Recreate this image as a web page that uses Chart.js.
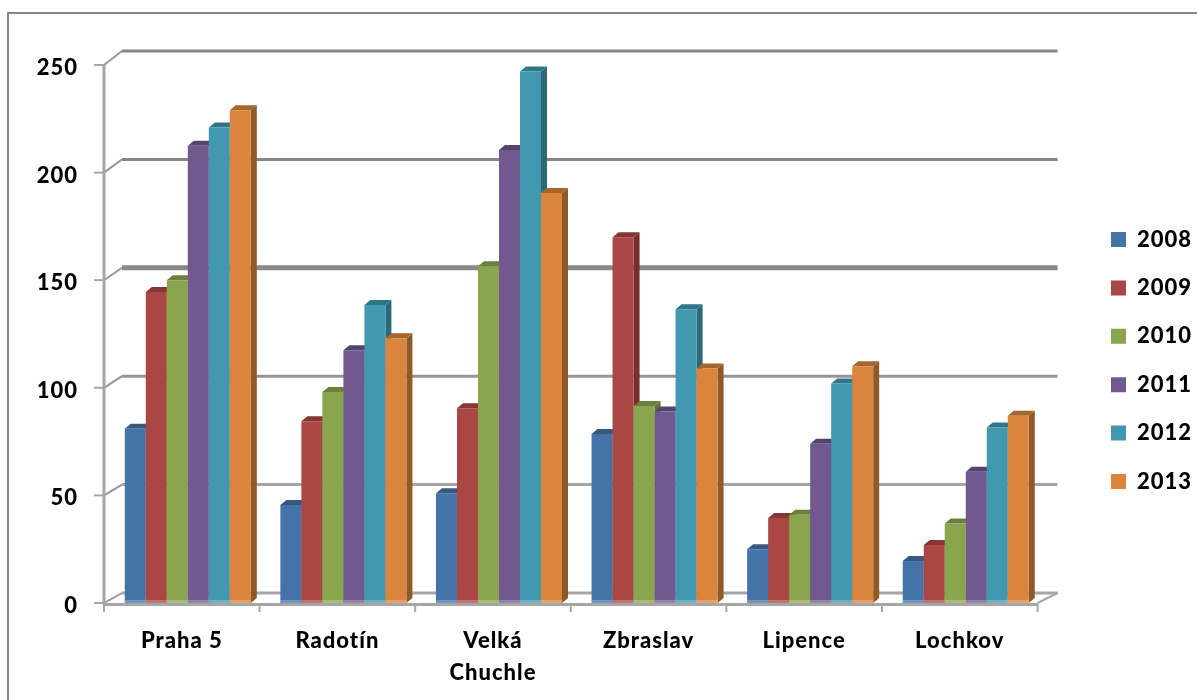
<!DOCTYPE html>
<html>
<head>
<meta charset="utf-8">
<style>
  html, body { margin: 0; padding: 0; background: #fff; }
  #wrap { width: 1197px; height: 700px; }
</style>
<script src="https://cdn.jsdelivr.net/npm/chart.js@4/dist/chart.umd.js"></script>
</head>
<body>
<div id="wrap"><canvas id="myChart" width="1197" height="700"></canvas></div>
<script>
const categories = ["Praha 5", "Radotín", ["Velká", "Chuchle"], "Zbraslav", "Lipence", "Lochkov"];
const years = ["2008", "2009", "2010", "2011", "2012", "2013"];

const v2008 = [81, 45.5, 51, 78.5, 25, 19.5];
const v2009 = [144.5, 84.5, 90.5, 170, 39.5, 27];
const v2010 = [150, 98, 156.5, 91.5, 41, 37];
const v2011 = [212.5, 117.5, 210.5, 89, 74, 61];
const v2012 = [221, 138.5, 247, 136.5, 102, 81.5];
const v2013 = [229, 123, 190.5, 109, 110, 87];
const seriesValues = [v2008, v2009, v2010, v2011, v2012, v2013];

const colors = ["#4572a7", "#aa4643", "#89a54e", "#71588f", "#4198af", "#db843d"];
const sideColors = ["#2f4e73", "#752f2d", "#5e7135", "#4d3c62", "#2c6878", "#8f5a28"];
const capColors = ["#37597f", "#843735", "#6a803c", "#57446e", "#2f7689", "#a5662e"];

// back wall line look, bottom to top (the source image is resampled so they differ)
const wallWidths = [3, 3, 3, 5, 3, 3];
const wallColors = ["#a6a6a6", "#a6a6a6", "#969696", "#888888", "#868686", "#868686"];

// fake 3D: sides, caps, walls and axes are all hung off the real scales
const depthX = 6;
const depthY = 5;
const axisShift = 6;

function drawBarFaces(ctx, meta, i) {
  meta.data.forEach((bar) => {
    const r = bar.x + bar.width / 2;
    const l = bar.x - bar.width / 2;
    ctx.fillStyle = sideColors[i];
    ctx.beginPath();
    ctx.moveTo(r, bar.y);
    ctx.lineTo(r + depthX, bar.y - depthY);
    ctx.lineTo(r + depthX, bar.base - depthY);
    ctx.lineTo(r, bar.base);
    ctx.closePath();
    ctx.fill();
    ctx.fillStyle = capColors[i];
    ctx.beginPath();
    ctx.moveTo(l, bar.y);
    ctx.lineTo(l + depthX, bar.y - depthY);
    ctx.lineTo(r + depthX, bar.y - depthY);
    ctx.lineTo(r, bar.y);
    ctx.closePath();
    ctx.fill();
  });
}

const bar3d = {
  id: "bar3d",
  beforeUpdate(chart) {
    chart.ctx.letterSpacing = "1px";
  },
  afterLayout(chart) {
    const lg = chart.legend;
    lg.left = 1111 - lg.options.labels.padding;
    lg.right = 1197;
    lg.top -= 22;
    lg.bottom -= 22;
  },
  beforeDatasetsDraw(chart) {
    const { ctx, scales } = chart;
    const y = scales.y;
    const left = chart.chartArea.left - axisShift;
    const right = chart.chartArea.right - axisShift;
    const bottom = y.getPixelForValue(0);
    const line = (x1, y1, x2, y2, color, w) => {
      ctx.strokeStyle = color;
      ctx.lineWidth = w;
      ctx.beginPath();
      ctx.moveTo(x1, y1);
      ctx.lineTo(x2, y2);
      ctx.stroke();
    };
    ctx.save();
    // outer frame
    line(8, 13, 1197, 13, "#868686", 2);
    line(8, 12, 8, 700, "#868686", 2);
    // back wall
    y.ticks.forEach((t, i) => {
      const py = y.getPixelForValue(t.value);
      const lift = 10 + (4 * t.value) / 250;
      const backY = py - lift;
      line(left, py, left + 18, backY, "#969696", 2);
      line(left + 18, backY, right + 20, backY, wallColors[i], wallWidths[i]);
      line(left - 10, py, left, py, "#a6a6a6", 2);
    });
    line(right, bottom, right + 20, bottom - 10, "#a6a6a6", 2);
    // axes
    line(left, y.getPixelForValue(250), left, bottom + 2, "#a6a6a6", 3);
    line(left - 1, bottom + 1.5, right, bottom + 1.5, "#a6a6a6", 3);
    const step = (right - left) / categories.length;
    for (let i = 0; i <= categories.length; i++) {
      line(left + step * i, bottom, left + step * i, bottom + 9, "#a6a6a6", 2);
    }
    ctx.restore();
  },
  // chart.js paints the last dataset first, here the left bar has to go first
  beforeDatasetDraw() {
    return false;
  },
  afterDatasetsDraw(chart) {
    const { ctx } = chart;
    years.forEach((year, i) => {
      const meta = chart.getDatasetMeta(i);
      ctx.save();
      drawBarFaces(ctx, meta, i);
      ctx.restore();
      meta.controller.draw();
      // paler foot on every bar where it meets the floor
      ctx.save();
      ctx.fillStyle = "rgba(255,255,255,0.25)";
      meta.data.forEach((bar) => {
        ctx.fillRect(bar.x - bar.width / 2, bar.base - 3, bar.width, 3);
      });
      ctx.restore();
    });
  },
};

const labelFont = { family: "Lato", size: 22, weight: "900" };

new Chart(document.getElementById("myChart").getContext("2d"), {
  type: "bar",
  plugins: [bar3d],
  data: {
    labels: categories,
    datasets: years.map((year, i) => ({
      label: year,
      data: seriesValues[i],
      backgroundColor: colors[i],
      borderWidth: 0,
      categoryPercentage: 0.81,
      barPercentage: 1,
    })),
  },
  options: {
    responsive: false,
    animation: false,
    layout: { padding: { top: 65, left: 0, right: 36, bottom: 0 } },
    plugins: {
      tooltip: { enabled: false },
      legend: {
        position: "right",
        labels: {
          boxWidth: 15,
          boxHeight: 15,
          padding: 26.4,
          color: "#000",
          font: labelFont,
        },
      },
    },
    scales: {
      x: {
        grid: { display: false },
        border: { display: false },
        afterFit: (s) => { s.height = 97; },
        ticks: {
          color: "#000",
          font: { ...labelFont, lineHeight: 1.45 },
          maxRotation: 0,
          autoSkip: false,
          labelOffset: -axisShift,
          padding: 14,
        },
      },
      y: {
        min: 0,
        max: 250,
        grid: { display: false },
        border: { display: false },
        afterFit: (s) => { s.width = 110; },
        ticks: {
          stepSize: 50,
          color: "#000",
          font: labelFont,
          padding: 24,
          labelOffset: 3,
        },
      },
    },
  },
});
</script>
</body>
</html>
